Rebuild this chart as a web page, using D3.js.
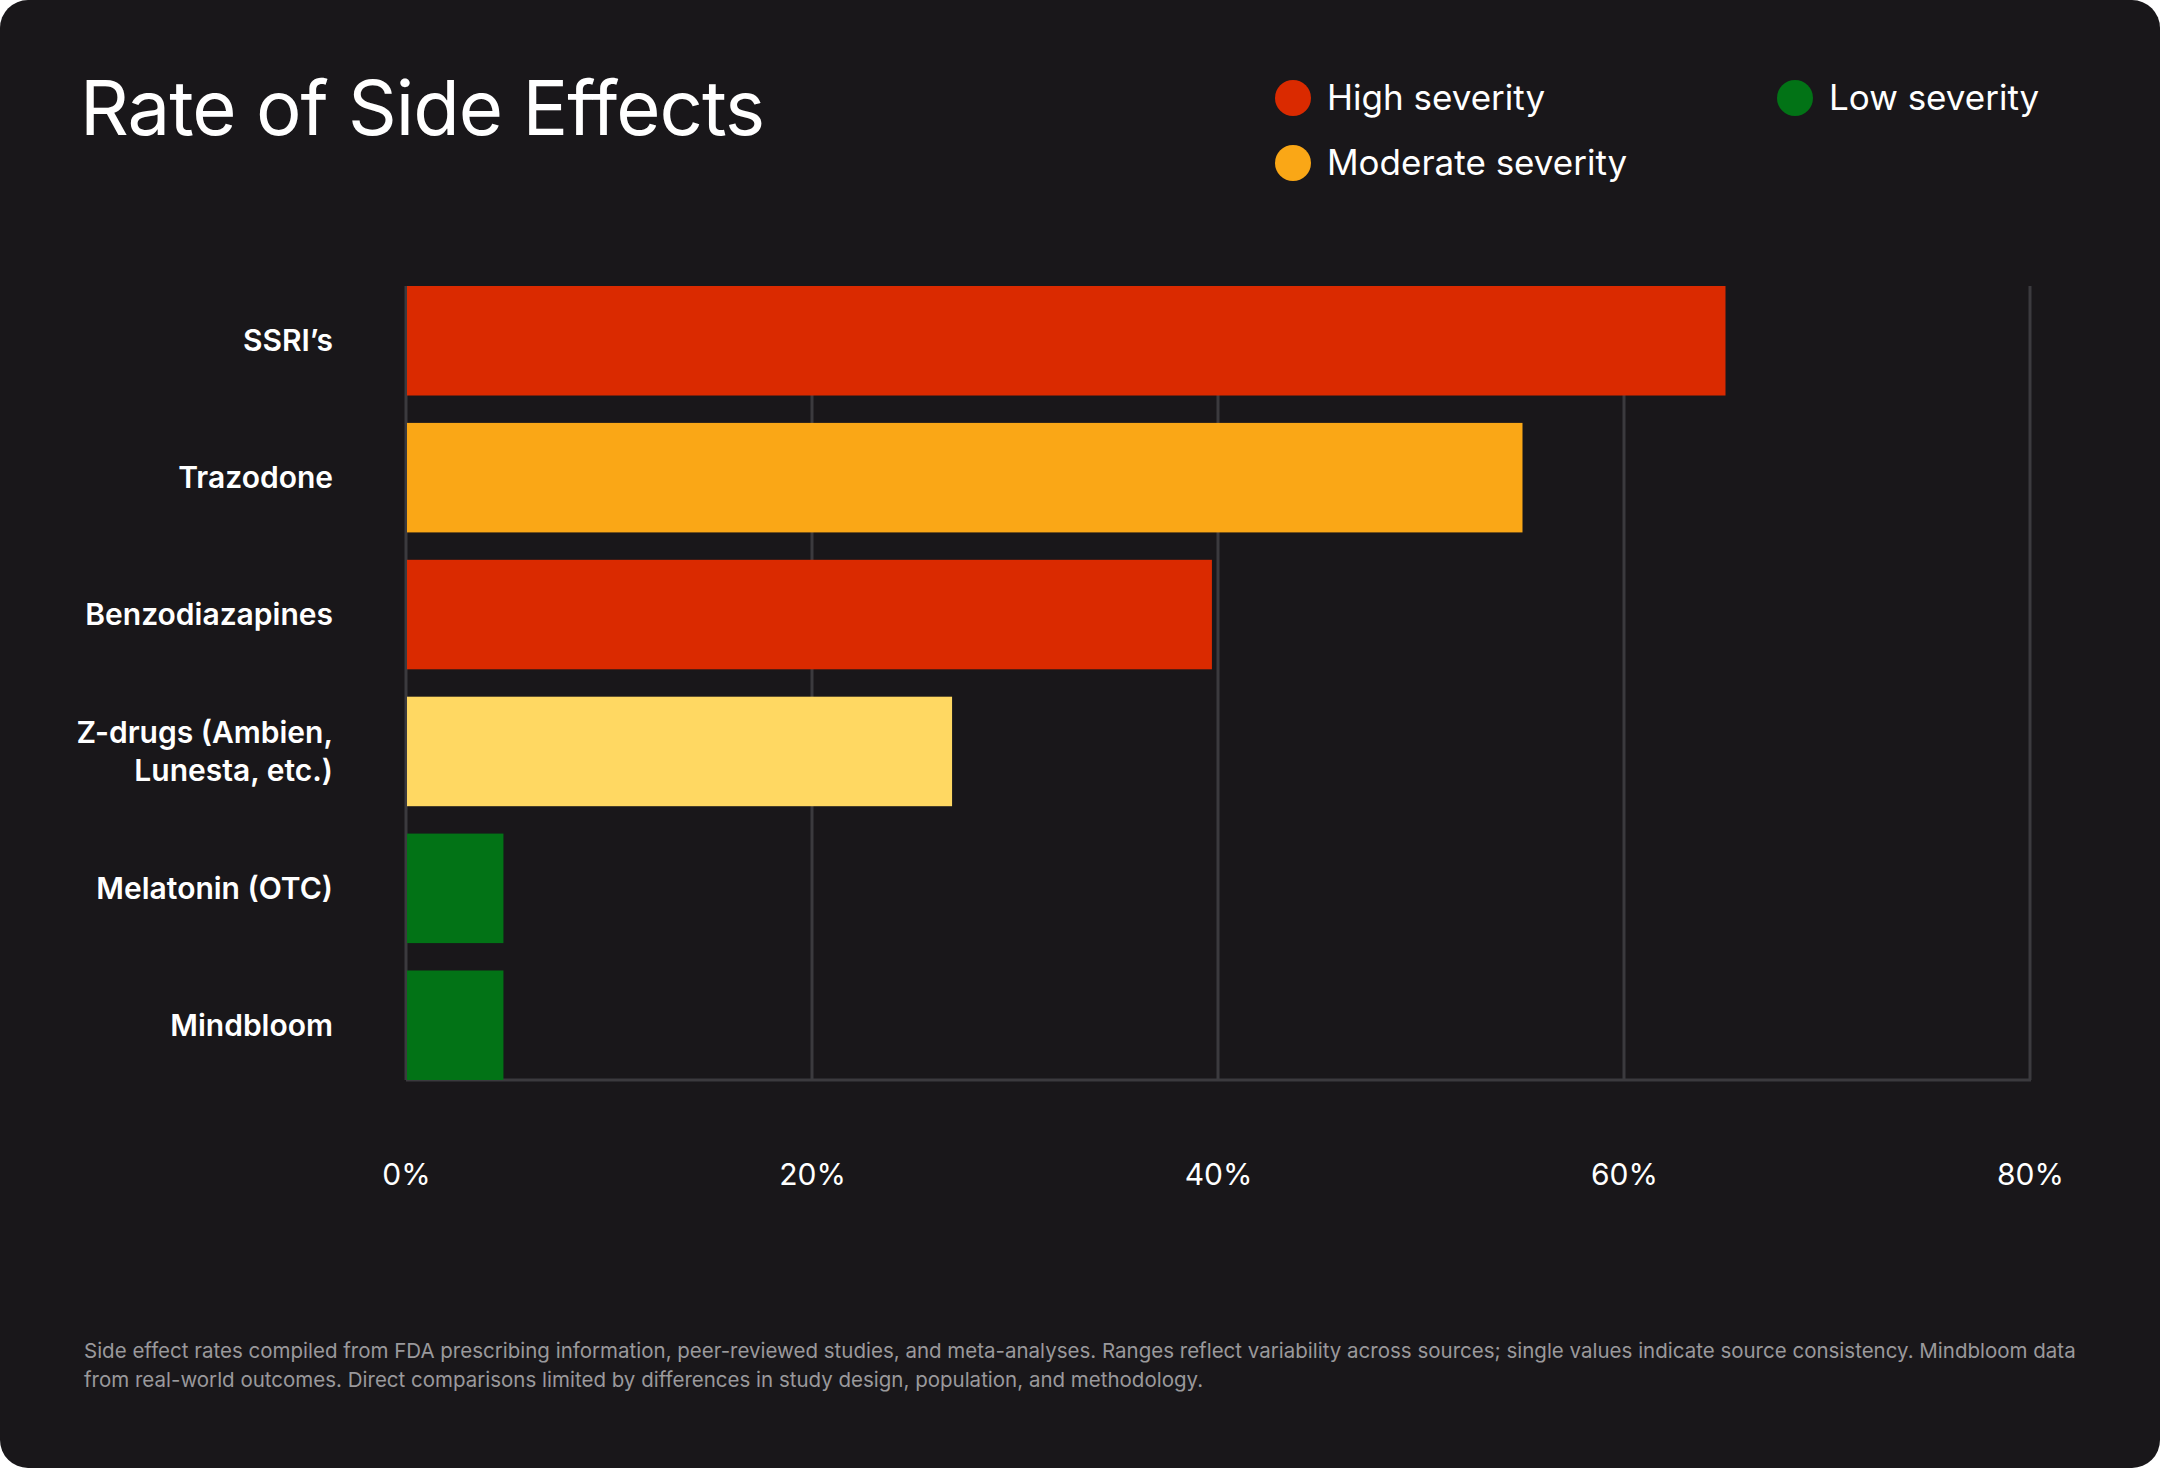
<!DOCTYPE html>
<html><head><meta charset="utf-8">
<script src="https://cdn.jsdelivr.net/npm/d3@7"></script>
<style>body{margin:0;background:#fff;}svg{display:block;}</style>
</head><body>
<svg id="c" width="2160" height="1468"></svg>
<script>
const categories = ["SSRI’s","Trazodone","Benzodiazapines","Z-drugs (Ambien,|Lunesta, etc.)","Melatonin (OTC)","Mindbloom"];
const values = [65, 55, 39.7, 26.9, 4.8, 4.8];
const severity = ["High","Moderate","High","Mild","Low","Low"];
const ticks = [0,20,40,60,80];
const colors = {High:"#DA2A00",Moderate:"#FAA716",Mild:"#FFD862",Low:"#027316"};
const legend = [["High severity","High",1293,98],["Moderate severity","Moderate",1293,163],["Low severity","Low",1795,98]];
const font = "Inter, 'Open Sans', sans-serif";

const svg = d3.select("#c");
svg.append("rect").attr("width",2160).attr("height",1468).attr("rx",28).attr("fill","#19171a");
svg.append("text").attr("x",80).attr("y",135).attr("fill","#fff").attr("font-family",font)
  .attr("font-size",76).attr("font-weight",400).attr("letter-spacing",-1).text("Rate of Side Effects");

legend.forEach(([t,k,x,y])=>{
  svg.append("circle").attr("cx",x).attr("cy",y).attr("r",18).attr("fill",colors[k]);
  svg.append("text").attr("x",x+34).attr("y",y).attr("dy","0.35em").attr("fill","#fff")
    .attr("font-family",font).attr("font-size",35).text(t);
});

const L=406,R=2030,T=286,B=1080;
const x = d3.scaleLinear().domain([0,80]).range([L,R]);
const y = d3.scaleBand().domain(categories).range([T,B]).paddingInner(0.2).paddingOuter(0);
const g = svg.append("g");
g.selectAll(".grid").data(ticks.slice(1)).join("line")
  .attr("x1",d=>x(d)).attr("x2",d=>x(d)).attr("y1",T).attr("y2",B)
  .attr("stroke","#3b3a3e").attr("stroke-width",3);
g.append("line").attr("x1",L).attr("x2",L).attr("y1",T).attr("y2",B).attr("stroke","#3b3a3e").attr("stroke-width",3);
g.append("line").attr("x1",L).attr("x2",R+1).attr("y1",B).attr("y2",B).attr("stroke","#3b3a3e").attr("stroke-width",3);
g.selectAll(".bar").data(categories).join("rect")
  .attr("x",L+1).attr("y",d=>y(d)).attr("height",y.bandwidth())
  .attr("width",(d,i)=>x(values[i])-L-1).attr("fill",(d,i)=>colors[severity[i]]);

const xa = svg.append("g").attr("transform",`translate(0,${B})`)
  .call(d3.axisBottom(x).tickValues(ticks).tickFormat(d=>d+"%").tickSize(0).tickPadding(84));
xa.select(".domain").remove();
xa.selectAll("text").attr("fill","#fff").attr("font-family",font).attr("font-size",30);

categories.forEach(c=>{
  const lines=c.split("|");
  const t=svg.append("text").attr("x",333).attr("text-anchor","end").attr("fill","#fff")
    .attr("font-family",font).attr("font-size",30).attr("font-weight",600);
  const cy=y(c)+y.bandwidth()/2;
  lines.forEach((l,i)=>t.append("tspan").attr("x",333)
    .attr("y",cy+(i-(lines.length-1)/2)*38).attr("dy","0.35em").text(l));
});

const foot=["Side effect rates compiled from FDA prescribing information, peer-reviewed studies, and meta-analyses. Ranges reflect variability across sources; single values indicate source consistency. Mindbloom data","from real-world outcomes. Direct comparisons limited by differences in study design, population, and methodology."];
foot.forEach((f,i)=>svg.append("text").attr("x",84).attr("y",1358+i*29).attr("fill","#9a999c")
  .attr("font-family",font).attr("font-size",20.5).text(f));
</script>
</body></html>
